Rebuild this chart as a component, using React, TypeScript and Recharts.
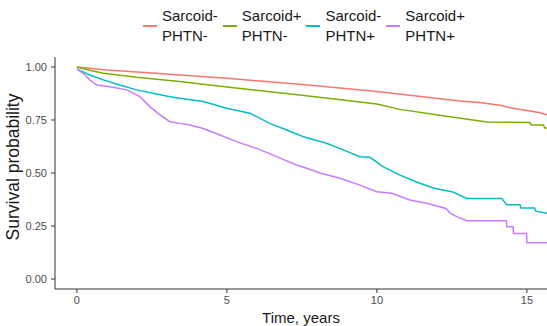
import React from "react";
import { LineChart, Line, XAxis, YAxis, Legend, Label } from "recharts";

// Time (years) and survival probability
const redT = [0, 1, 2.5, 3.43, 5, 7.43, 10, 12.77, 13.43, 14.1, 14.53, 15.4, 15.67];
const redS = [1.0, 0.986, 0.972, 0.962, 0.947, 0.918, 0.884, 0.84, 0.833, 0.82, 0.805, 0.785, 0.774];

const greenT = [0, 0.5, 0.88, 1.99, 3.43, 5, 7.43, 10, 10.77, 12.2, 13.67, 15.1, 15.15, 15.55, 15.6, 15.67];
const greenS = [1.0, 0.982, 0.97, 0.951, 0.931, 0.905, 0.868, 0.825, 0.8, 0.77, 0.74, 0.738, 0.726, 0.726, 0.712, 0.712];

const cyanT = [0, 0.43, 0.88, 1.43, 1.99, 2.54, 3.1, 3.43, 4.21, 4.99, 5.77, 6.43, 6.99, 7.55, 8.32, 8.9, 9.43, 9.77, 10.2, 10.77, 11.3, 11.9, 12.5, 13.0, 14.16, 14.33, 14.77, 14.8, 15.25, 15.3, 15.67];
const cyanS = [0.99, 0.962, 0.939, 0.915, 0.892, 0.876, 0.86, 0.852, 0.837, 0.805, 0.782, 0.734, 0.703, 0.671, 0.64, 0.608, 0.577, 0.574, 0.53, 0.49, 0.459, 0.428, 0.412, 0.38, 0.38, 0.35, 0.35, 0.335, 0.335, 0.32, 0.31];

const purpleT = [0, 0.21, 0.43, 0.66, 1.1, 1.66, 2.1, 2.43, 2.77, 3.1, 3.43, 3.77, 4.21, 4.77, 5.32, 5.99, 6.66, 7.32, 7.66, 8.1, 8.77, 9.43, 10.0, 10.5, 11.1, 11.66, 12.3, 12.45, 12.66, 13.0, 14.32, 14.33, 14.54, 14.55, 14.99, 15.0, 15.67];
const purpleS = [0.99, 0.97, 0.939, 0.915, 0.907, 0.892, 0.86, 0.813, 0.774, 0.742, 0.734, 0.726, 0.71, 0.679, 0.648, 0.616, 0.577, 0.538, 0.522, 0.5, 0.475, 0.443, 0.412, 0.404, 0.373, 0.357, 0.333, 0.31, 0.294, 0.275, 0.275, 0.247, 0.247, 0.215, 0.215, 0.171, 0.171];

const seriesNames = ["Sarcoid-\nPHTN-", "Sarcoid+\nPHTN-", "Sarcoid-\nPHTN+", "Sarcoid+\nPHTN+"];
const seriesColors = ["#F8766D", "#7CAE00", "#00BFC4", "#C77CFF"];
const xTicks = [0, 5, 10, 15];
const yTicks = [0, 0.25, 0.5, 0.75, 1];

const toPoints = (t: number[], s: number[]) => t.map((v, i) => ({ t: v, s: s[i] }));

const series = [
  { name: seriesNames[0], color: seriesColors[0], data: toPoints(redT, redS) },
  { name: seriesNames[1], color: seriesColors[1], data: toPoints(greenT, greenS) },
  { name: seriesNames[2], color: seriesColors[2], data: toPoints(cyanT, cyanS) },
  { name: seriesNames[3], color: seriesColors[3], data: toPoints(purpleT, purpleS) },
];

const FONT = "'Liberation Sans', Arial, sans-serif";

const LegendContent = () => (
  <div
    style={{
      width: 547,
      height: 50,
      display: "flex",
      alignItems: "flex-start",
      paddingLeft: 143,
      boxSizing: "border-box",
      fontFamily: FONT,
      fontSize: 15,
      color: "#1a1a1a",
    }}
  >
    {series.map((s) => (
      <div key={s.name} style={{ display: "flex", alignItems: "center", marginRight: 5, marginTop: 6 }}>
        <div style={{ width: 14, height: 1.5, background: s.color, marginRight: 5 }} />
        <div style={{ lineHeight: "20px", whiteSpace: "pre" }}>{s.name}</div>
      </div>
    ))}
  </div>
);

const YTitle = () => {
  const cy = 167;
  const x = 19;
  return (
    <text
      x={x}
      y={cy}
      transform={`rotate(-90, ${x}, ${cy})`}
      textAnchor="middle"
      fontFamily={FONT}
      fontSize={17.5}
      fill="#1a1a1a"
    >
      Survival probability
    </text>
  );
};

export default function App() {
  return (
    <div style={{ position: "absolute", left: 0, top: 0, width: 547, height: 326, background: "#fff" }}>
      <LineChart width={547} height={326} margin={{ top: 7, right: 0, bottom: 0, left: 0 }}>
        <Legend verticalAlign="top" align="left" content={<LegendContent />} wrapperStyle={{ top: 0, left: 0 }} />
        <XAxis
          type="number"
          dataKey="t"
          domain={[-0.73, 15.67]}
          allowDataOverflow
          ticks={xTicks}
          height={37}
          tickSize={4}
          tickMargin={3}
          stroke="#333"
          tick={{ fill: "#4d4d4d", fontSize: 11, fontFamily: FONT }}
          tickLine={{ stroke: "#333" }}
          axisLine={{ stroke: "#333" }}
        >
          <Label value="Time, years" position="insideBottom" offset={3} fill="#1a1a1a" fontSize={15} fontFamily={FONT} />
        </XAxis>
        <YAxis
          type="number"
          dataKey="s"
          domain={[-0.047, 1.047]}
          allowDataOverflow
          ticks={yTicks}
          width={55}
          tickSize={4}
          tickMargin={4}
          tickFormatter={(v: number) => v.toFixed(2)}
          stroke="#333"
          tick={{ fill: "#4d4d4d", fontSize: 11, fontFamily: FONT }}
          tickLine={{ stroke: "#333" }}
          axisLine={{ stroke: "#333" }}
        >
          <Label content={<YTitle />} />
        </YAxis>
        {series.map((s) => (
          <Line
            key={s.name}
            data={s.data}
            dataKey="s"
            type="linear"
            stroke={s.color}
            strokeWidth={1.5}
            dot={false}
            isAnimationActive={false}
            name={s.name}
          />
        ))}
      </LineChart>
    </div>
  );
}
